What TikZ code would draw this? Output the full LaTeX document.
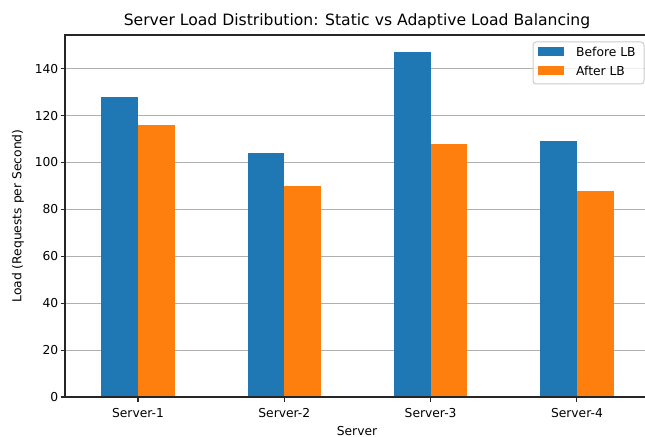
\documentclass[tikz,border=0pt]{standalone}
\usepackage{fontspec}
\setmainfont{DejaVu Sans}
\definecolor{mblue}{HTML}{1F77B4}
\definecolor{morange}{HTML}{FF7F0E}
\definecolor{gridc}{HTML}{B0B0B0}
\definecolor{legc}{HTML}{CCCCCC}
\begin{document}
\begin{tikzpicture}[x=1bp,y=-1bp,
  tick/.style={font=\fontsize{12.3bp}{14bp}\selectfont, inner sep=0pt},
  gridline/.style={draw=gridc, line width=1bp},
  spine/.style={draw=black!85, line width=1.1bp},
  tickmark/.style={draw=black!85, line width=1.1bp},
  barb/.style={fill=mblue},
  bara/.style={fill=morange}]
\useasboundingbox (0,0) rectangle (645,437);
\fill[white] (0,0) rectangle (645,437);
% grid lines and y ticks
\foreach \v in {0,20,...,140}{
  \pgfmathsetmacro\yy{397-2.3453*\v}
  \draw[gridline] (65,\yy) -- (645,\yy);
  \draw[tickmark] (60.5,\yy) -- (65,\yy);
  \node[tick, anchor=east] (yt\v) at (58.5,\yy) {\v};
}
% bars
\foreach \i/\b/\a in {0/128/116,1/104/90,2/147/108,3/109/88}{
  \pgfmathsetmacro\cx{138+146.3*\i}
  \pgfmathsetmacro\yb{397-2.3453*\b}
  \pgfmathsetmacro\ya{397-2.3453*\a}
  \fill[barb] ({\cx-36.6},397) rectangle (\cx,\yb);
  \fill[bara] (\cx,397) rectangle ({\cx+36.6},\ya);
  \draw[tickmark] (\cx,397) -- (\cx,402);
  \pgfmathtruncatemacro\n{\i+1}
  \node[tick, anchor=base] (xt\n) at (\cx,417.3) {Server-\n};
}
% spines
\draw[spine] (645,35) -- (65,35) -- (65,397) -- (645,397);
% labels
\node[tick, anchor=base] (xlabel) at (357,435.3) {Server};
\node[tick, rotate=90, anchor=center] (ylabel) at (18,216) {Load (Requests per Second)};
\node[font=\fontsize{15.6bp}{18bp}\selectfont, inner sep=0pt, anchor=base] (title) at (357,25.5) {Server Load Distribution: Static vs Adaptive Load Balancing};
% legend
\draw[legc, fill=white, fill opacity=0.8, rounded corners=3bp, line width=1bp] (533,42) rectangle (644,84);
\fill[mblue] (538,47.5) rectangle (564,56.5);
\fill[morange] (538,66.5) rectangle (564,75.5);
\node[tick, anchor=base west] (leg1) at (576,56.5) {Before LB};
\node[tick, anchor=base west] (leg2) at (576,75.5) {After LB};
\end{tikzpicture}
\end{document}
